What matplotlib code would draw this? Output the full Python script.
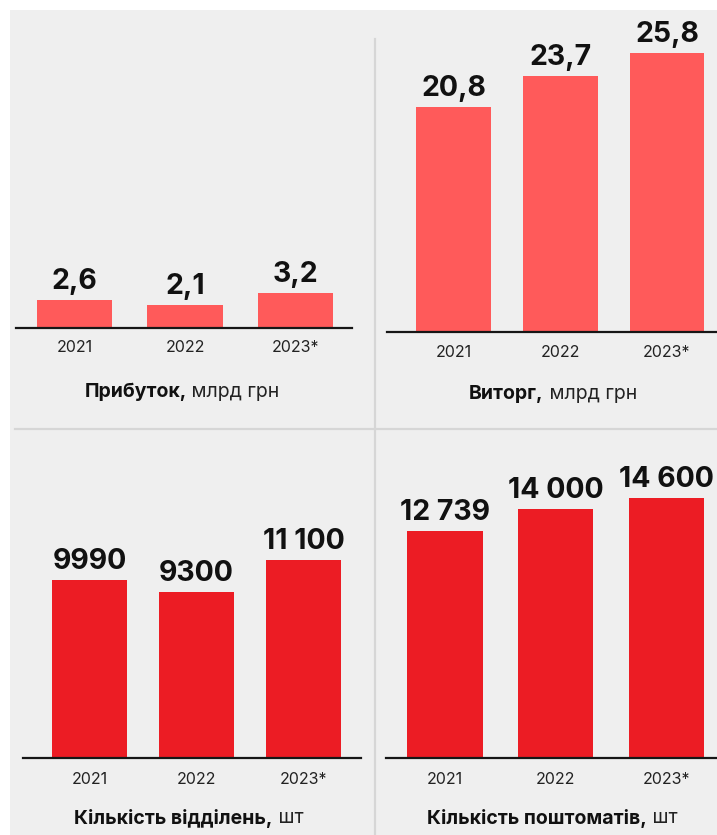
import matplotlib
matplotlib.use("Agg")
import matplotlib.pyplot as plt
from matplotlib.patches import Rectangle
from matplotlib.lines import Line2D

plt.rcParams["font.family"] = ["Inter", "DejaVu Sans"]

W, H = 717, 835
BG = "#efefef"
RED_LIGHT = "#ff5a5a"
RED_DARK = "#ec1c24"

years = ["2021", "2022", "2023*"]

profit = [2.6, 2.1, 3.2]
profit_labels = ["2,6", "2,1", "3,2"]
revenue = [20.8, 23.7, 25.8]
revenue_labels = ["20,8", "23,7", "25,8"]
branches = [9990, 9300, 11100]
branches_labels = ["9990", "9300", "11 100"]
lockers = [12739, 14000, 14600]
lockers_labels = ["12 739", "14 000", "14 600"]

titles_bold = ["Прибуток,", "Виторг,", "Кількість відділень,", "Кількість поштоматів,"]
titles_unit = ["млрд грн", "млрд грн", "шт", "шт"]

fig = plt.figure(figsize=(W / 100, H / 100), dpi=100, facecolor="white")
fig.patches.append(Rectangle((10 / W, 0), 1, 1 - 10 / H, transform=fig.transFigure,
                             facecolor=BG, edgecolor="none", zorder=-10))

# separators
fig.add_artist(Line2D([375 / W, 375 / W], [0, 1 - 39 / H], color="#d6d6d6", lw=1.6))
fig.add_artist(Line2D([15 / W, 1], [1 - 429 / H, 1 - 429 / H], color="#d6d6d6", lw=1.6))


def px_ax(left, right, base, top):
    return fig.add_axes([left / W, 1 - base / H, (right - left) / W, (base - top) / H])


def panel(values, labels, color, left, right, base, top, first_c, step, px_per_unit,
          bw, tick_off):
    ax = px_ax(left, right, base, top)
    ax.set_facecolor("none")
    x = list(range(len(values)))
    ax.bar(x, values, width=bw, color=color, edgecolor="none", zorder=2)
    ax.set_xlim((left - first_c) / step, (right - first_c) / step)
    ax.set_ylim(0, (base - top) / px_per_unit)
    for s in ["top", "left", "right"]:
        ax.spines[s].set_visible(False)
    ax.spines["bottom"].set_linewidth(1.6)
    ax.spines["bottom"].set_color("#161616")
    ax.set_xticks([])
    ax.set_yticks([])
    for xi, v, lab in zip(x, values, labels):
        ax.annotate(lab, xy=(xi, v), xytext=(0, 11), textcoords="offset pixels",
                    ha="center", va="baseline", fontsize=20.5, fontweight="bold",
                    color="#111111")
    for xi, yr in zip(x, years):
        ax.annotate(yr, xy=(xi, 0), xytext=(0, -tick_off), textcoords="offset pixels",
                    ha="center", va="center", fontsize=11.5, color="#222222")
    return ax


panel(profit, profit_labels, RED_LIGHT, 16, 352, 328, 40, 74.5, 110.5, 10.8, 0.68, 20)
panel(revenue, revenue_labels, RED_LIGHT, 387, 717, 332, 40, 453.5, 106.75, 10.8, 0.70, 20)
panel(branches, branches_labels, RED_DARK, 23, 361, 758, 440, 89.5, 107, 0.01782, 0.70, 21)
panel(lockers, lockers_labels, RED_DARK, 386, 717, 758, 440, 445, 110.75, 0.01782, 0.68, 21)

# titles: bold part + regular unit, centred together
title_pos = [(182, 392), (553, 394), (189, 818), (552, 818)]
renderer = fig.canvas.get_renderer()
for (cx, cy), tb, tu in zip(title_pos, titles_bold, titles_unit):
    t1 = fig.text(0, 1 - cy / H, tb, fontsize=14, fontweight="bold", color="#111111",
                  va="center", ha="left")
    t2 = fig.text(0, 1 - cy / H, " " + tu, fontsize=14, color="#222222",
                  va="center", ha="left")
    w1 = t1.get_window_extent(renderer).width
    w2 = t2.get_window_extent(renderer).width
    x0 = cx - (w1 + w2) / 2
    t1.set_x(x0 / W)
    t2.set_x((x0 + w1) / W)

fig.savefig("out.png", dpi=100, facecolor=fig.get_facecolor())
